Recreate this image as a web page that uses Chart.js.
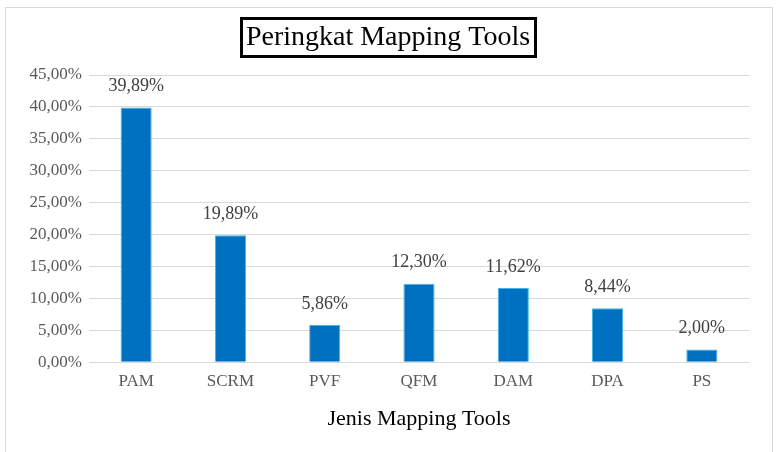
<!DOCTYPE html>
<html lang="id">
<head>
    <meta charset="UTF-8">
    <title>Peringkat Mapping Tools</title>
    <script src="https://cdn.jsdelivr.net/npm/chart.js@4.4.0/dist/chart.umd.min.js"></script>
    <style>
        body {
            margin: 0;
            background: #ffffff;
        }
        .chart-container {
            position: relative;
            width: 776px;
            height: 452px;
        }
    </style>
</head>
<body>
    <div class="chart-container">
        <canvas id="rankChart"></canvas>
    </div>

    <script>
        // Data from the figure
        const categories = ['PAM', 'SCRM', 'PVF', 'QFM', 'DAM', 'DPA', 'PS'];
        const percentages = [39.89, 19.89, 5.86, 12.30, 11.62, 8.44, 2.00];
        const yTicks = [0, 5, 10, 15, 20, 25, 30, 35, 40, 45];

        const chartTitle = 'Peringkat Mapping Tools';
        const xAxisTitle = 'Jenis Mapping Tools';
        const serif = "'Liberation Serif', 'Times New Roman', serif";

        function fmtPct(v) {
            return v.toFixed(2).replace('.', ',') + '%';
        }

        // outer frame + boxed title
        const framePlugin = {
            id: 'framePlugin',
            beforeDraw(chart) {
                const ctx = chart.ctx;
                ctx.save();
                ctx.strokeStyle = '#d9d9d9';
                ctx.lineWidth = 1;
                ctx.strokeRect(5.5, 7.5, 767, 470);
                ctx.restore();
            },
            afterDraw(chart) {
                const ctx = chart.ctx;
                ctx.save();
                ctx.font = '28px ' + serif;
                ctx.fillStyle = '#000';
                ctx.textAlign = 'center';
                ctx.textBaseline = 'middle';
                const cx = chart.width / 2;
                ctx.fillText(chartTitle, cx, 38);
                const w = ctx.measureText(chartTitle).width + 10;
                ctx.lineWidth = 3;
                ctx.strokeStyle = '#000';
                ctx.strokeRect(Math.round(cx - w / 2) + 0.5, 18.5, Math.round(w), 38);
                ctx.restore();
            }
        };

        // value labels above bars
        const valueLabels = {
            id: 'valueLabels',
            afterDatasetsDraw(chart) {
                const ctx = chart.ctx;
                const meta = chart.getDatasetMeta(0);
                ctx.save();
                ctx.font = '18px ' + serif;
                ctx.fillStyle = '#404040';
                ctx.textAlign = 'center';
                ctx.textBaseline = 'middle';
                meta.data.forEach((bar, i) => {
                    ctx.fillText(fmtPct(percentages[i]), bar.x, bar.y - 21);
                });
                ctx.restore();
            }
        };

        new Chart(document.getElementById('rankChart'), {
            type: 'bar',
            data: {
                labels: categories,
                datasets: [{
                    data: percentages,
                    backgroundColor: '#0070C0',
                    borderColor: '#41B6E6',
                    borderWidth: 1,
                    categoryPercentage: 1,
                    barPercentage: 0.33
                }]
            },
            options: {
                responsive: true,
                maintainAspectRatio: false,
                animation: false,
                layout: {
                    padding: { top: 75, left: 0, right: 27, bottom: 20 }
                },
                plugins: {
                    legend: { display: false },
                    title: { display: false },
                    tooltip: { enabled: false }
                },
                scales: {
                    x: {
                        grid: { display: false },
                        border: { display: false },
                        ticks: {
                            color: '#595959',
                            padding: 1,
                            font: { family: serif, size: 17 }
                        },
                        title: {
                            display: true,
                            text: xAxisTitle,
                            color: '#000',
                            padding: { top: 13, bottom: 0 },
                            font: { family: serif, size: 22 }
                        }
                    },
                    y: {
                        min: yTicks[0],
                        max: yTicks[yTicks.length - 1],
                        afterBuildTicks(scale) {
                            scale.ticks = yTicks.map(v => ({ value: v }));
                        },
                        afterFit(scale) {
                            scale.width = 89;
                        },
                        grid: { color: '#d9d9d9', drawTicks: false },
                        border: { display: false },
                        ticks: {
                            color: '#595959',
                            padding: 7,
                            font: { family: serif, size: 17 },
                            callback: v => fmtPct(v)
                        }
                    }
                }
            },
            plugins: [framePlugin, valueLabels]
        });
    </script>
</body>
</html>
